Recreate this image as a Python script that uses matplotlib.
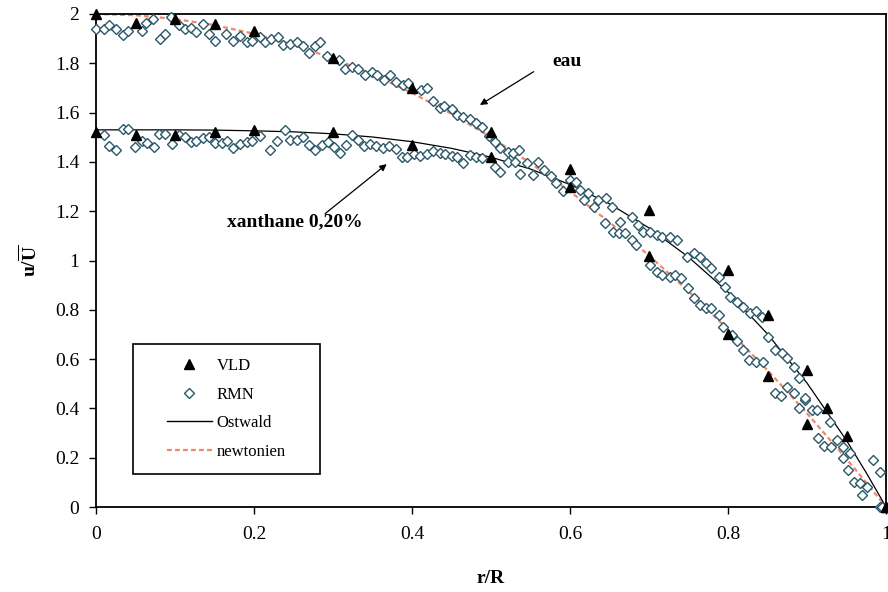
import matplotlib
matplotlib.use("Agg")
import matplotlib.pyplot as plt
from matplotlib.lines import Line2D
from matplotlib.patches import Rectangle
from matplotlib.ticker import FuncFormatter

plt.rcParams['font.family'] = ['Liberation Serif', 'DejaVu Serif']
plt.rcParams['mathtext.fontset'] = 'custom'
plt.rcParams['mathtext.rm'] = 'Liberation Serif'
plt.rcParams['mathtext.bf'] = 'Liberation Serif:bold'

# fitted curves
r_fit = [0, 0.05, 0.1, 0.15, 0.2, 0.25, 0.3, 0.35, 0.4, 0.45, 0.5, 0.55,
         0.6, 0.65, 0.7, 0.75, 0.8, 0.85, 0.9, 0.95, 0.975, 1.0]
ostwald = [1.53, 1.53, 1.53, 1.529, 1.526, 1.522, 1.514, 1.501, 1.482, 1.455, 1.419, 1.371,
           1.308, 1.23, 1.132, 1.014, 0.872, 0.702, 0.503, 0.27, 0.139, 0.0]
newtonien = [2.0, 1.995, 1.98, 1.955, 1.92, 1.875, 1.82, 1.755, 1.68, 1.595, 1.5, 1.395,
             1.28, 1.155, 1.02, 0.875, 0.72, 0.555, 0.38, 0.195, 0.099, 0.0]

# VLD measurements
r_vld_eau = [0, 0.05, 0.1, 0.15, 0.2, 0.3, 0.4, 0.5, 0.6, 0.7, 0.8, 0.85, 0.9, 1.0]
vld_eau = [2.0, 1.965, 1.98, 1.96, 1.93, 1.82, 1.70, 1.52, 1.30, 1.02, 0.70, 0.53, 0.335, 0.0]
r_vld_xan = [0, 0.05, 0.1, 0.15, 0.2, 0.3, 0.4, 0.5, 0.6, 0.7, 0.8, 0.85, 0.9, 0.925, 0.95, 1.0]
vld_xan = [1.52, 1.51, 1.51, 1.52, 1.53, 1.52, 1.47, 1.42, 1.37, 1.205, 0.96, 0.78, 0.555, 0.40, 0.29, 0.0]

# RMN measurements, water
r_rmn_eau = [0, 0.010, 0.017, 0.025, 0.034, 0.041, 0.058, 0.063, 0.072, 0.081, 0.087, 0.095,
             0.105, 0.113, 0.120, 0.127, 0.136, 0.143, 0.151, 0.165, 0.174, 0.182, 0.191,
             0.197, 0.207, 0.214, 0.222, 0.231, 0.237, 0.246, 0.254, 0.262, 0.269, 0.277,
             0.284, 0.293, 0.307, 0.315, 0.324, 0.332, 0.341, 0.349, 0.356, 0.365, 0.372,
             0.380, 0.388, 0.395, 0.411, 0.419, 0.426, 0.435, 0.440, 0.450, 0.457, 0.465,
             0.473, 0.481, 0.489, 0.498, 0.505, 0.512, 0.521, 0.528, 0.536, 0.545, 0.560,
             0.567, 0.576, 0.582, 0.591, 0.618, 0.630, 0.644, 0.655, 0.662, 0.670, 0.678,
             0.684, 0.701, 0.710, 0.717, 0.726, 0.733, 0.741, 0.749, 0.757, 0.765, 0.772,
             0.779, 0.788, 0.794, 0.805, 0.812, 0.819, 0.827, 0.835, 0.844, 0.859, 0.867,
             0.875, 0.883, 0.890, 0.897, 0.914, 0.922, 0.930, 0.945, 0.952, 0.959, 0.967,
             0.969, 0.976, 0.992]
rmn_eau = [1.94, 1.94, 1.955, 1.94, 1.915, 1.93, 1.93, 1.965, 1.978, 1.90, 1.92, 1.987,
           1.955, 1.94, 1.945, 1.925, 1.96, 1.92, 1.89, 1.92, 1.89, 1.91, 1.885,
           1.89, 1.905, 1.885, 1.90, 1.905, 1.874, 1.88, 1.885, 1.87, 1.84, 1.87,
           1.886, 1.83, 1.813, 1.775, 1.786, 1.775, 1.753, 1.766, 1.753, 1.732, 1.753,
           1.725, 1.712, 1.719, 1.69, 1.70, 1.648, 1.617, 1.627, 1.613, 1.59, 1.583,
           1.573, 1.559, 1.54, 1.505, 1.482, 1.455, 1.441, 1.435, 1.448, 1.394, 1.401,
           1.367, 1.343, 1.313, 1.283, 1.245, 1.218, 1.153, 1.117, 1.110, 1.110, 1.083,
           1.063, 0.982, 0.955, 0.941, 0.934, 0.941, 0.928, 0.887, 0.847, 0.819, 0.806,
           0.806, 0.779, 0.731, 0.698, 0.675, 0.637, 0.596, 0.590, 0.590, 0.461, 0.450,
           0.488, 0.461, 0.400, 0.434, 0.279, 0.247, 0.245, 0.198, 0.150, 0.103, 0.096,
           0.049, 0.082, 0.0]

# RMN measurements, xanthane 0,20%
r_rmn_xan = [0.010, 0.017, 0.025, 0.034, 0.041, 0.049, 0.058, 0.065, 0.073, 0.080, 0.087,
             0.096, 0.105, 0.113, 0.120, 0.127, 0.136, 0.143, 0.151, 0.159, 0.166, 0.174,
             0.182, 0.191, 0.198, 0.208, 0.220, 0.229, 0.239, 0.246, 0.254, 0.262, 0.269,
             0.277, 0.286, 0.294, 0.301, 0.309, 0.316, 0.324, 0.332, 0.339, 0.347, 0.354,
             0.363, 0.371, 0.380, 0.387, 0.394, 0.403, 0.410, 0.419, 0.426, 0.435, 0.442,
             0.450, 0.457, 0.465, 0.473, 0.481, 0.489, 0.505, 0.511, 0.522, 0.530, 0.537,
             0.553, 0.600, 0.608, 0.613, 0.623, 0.636, 0.646, 0.653, 0.663, 0.678, 0.686,
             0.693, 0.701, 0.710, 0.717, 0.727, 0.735, 0.748, 0.757, 0.765, 0.772, 0.779,
             0.788, 0.796, 0.803, 0.811, 0.819, 0.828, 0.835, 0.843, 0.850, 0.859, 0.868,
             0.875, 0.883, 0.890, 0.897, 0.906, 0.913, 0.929, 0.938, 0.946, 0.954, 0.983,
             0.992, 0.995]
rmn_xan = [1.51, 1.465, 1.45, 1.535, 1.535, 1.46, 1.486, 1.478, 1.46, 1.513, 1.513,
           1.473, 1.51, 1.50, 1.48, 1.486, 1.496, 1.50, 1.478, 1.478, 1.486, 1.455,
           1.473, 1.48, 1.486, 1.505, 1.45, 1.486, 1.53, 1.49, 1.49, 1.50, 1.469,
           1.448, 1.469, 1.482, 1.459, 1.437, 1.469, 1.509, 1.49, 1.464, 1.473, 1.464,
           1.455, 1.464, 1.451, 1.421, 1.421, 1.432, 1.424, 1.432, 1.445, 1.437, 1.432,
           1.424, 1.419, 1.397, 1.428, 1.419, 1.415, 1.38, 1.36, 1.40, 1.40, 1.351,
           1.347, 1.327, 1.32, 1.286, 1.273, 1.245, 1.252, 1.218, 1.157, 1.178, 1.144,
           1.117, 1.117, 1.103, 1.097, 1.097, 1.083, 1.015, 1.029, 1.015, 0.989, 0.968,
           0.934, 0.894, 0.853, 0.833, 0.813, 0.786, 0.796, 0.772, 0.688, 0.637, 0.624,
           0.603, 0.569, 0.522, 0.441, 0.394, 0.394, 0.346, 0.272, 0.245, 0.218, 0.191,
           0.143, 0.0]

x_ticks = [0, 0.2, 0.4, 0.6, 0.8, 1.0]
y_ticks = [0, 0.2, 0.4, 0.6, 0.8, 1.0, 1.2, 1.4, 1.6, 1.8, 2.0]

dia_col = '#2a5868'
newt_col = '#f0886a'

fig = plt.figure(figsize=(8.88, 5.92), dpi=100)
ax = fig.add_axes([96 / 888, 1 - 507 / 592, 790 / 888, 493 / 592])

# curves
ax.plot(r_fit, newtonien, color=newt_col, lw=1.6, dashes=(2.2, 1.4), zorder=2)
ax.plot(r_fit, ostwald, color='black', lw=0.9, zorder=3)

# RMN diamonds
dkw = dict(ls='none', marker='D', ms=4.8, mfc='white', mec=dia_col, mew=1.0,
           zorder=4, clip_on=False)
ax.plot(r_rmn_eau, rmn_eau, **dkw)
ax.plot(r_rmn_xan, rmn_xan, **dkw)

# VLD triangles
tkw = dict(ls='none', marker='^', ms=6.5, color='black', zorder=5, clip_on=False)
ax.plot(r_vld_eau, vld_eau, **tkw)
ax.plot(r_vld_xan, vld_xan, **tkw)

ax.set_xlim(0, 1)
ax.set_ylim(0, 2)
ax.set_xticks(x_ticks)
ax.set_yticks(y_ticks)
fmt = FuncFormatter(lambda v, p: '%g' % v)
ax.xaxis.set_major_formatter(fmt)
ax.yaxis.set_major_formatter(fmt)
ax.tick_params(direction='out', length=5, width=1, labelsize=14, color='black')
ax.tick_params(axis='x', pad=9)
ax.tick_params(axis='y', pad=7)
for s in ax.spines.values():
    s.set_linewidth(1.3)
    s.set_color('black')

ax.set_xlabel('r/R', fontsize=14, fontweight='bold', labelpad=19)
ax.set_ylabel(r'$\mathbf{u/\overline{U}}$', fontsize=14, labelpad=10)

# annotations
akw = dict(arrowstyle='-|>', color='black', lw=0.9, mutation_scale=10, shrinkA=0, shrinkB=0)
ax.annotate('', xy=(0.486, 1.631), xytext=(0.554, 1.766), arrowprops=akw)
ax.text(0.596, 1.807, 'eau', fontsize=14, fontweight='bold', ha='center', va='center')
ax.annotate('', xy=(0.368, 1.391), xytext=(0.29, 1.19), arrowprops=akw)
ax.text(0.252, 1.156, 'xanthane 0,20%', fontsize=14, fontweight='bold', ha='center', va='center')

# legend
handles = [
    Line2D([], [], ls='none', marker='^', ms=6.5, color='black'),
    Line2D([], [], ls='none', marker='D', ms=4.8, mfc='white', mec=dia_col, mew=1.0),
    Line2D([], [], color='black', lw=1.0),
    Line2D([], [], color=newt_col, lw=1.6, dashes=(2.2, 1.4)),
]
labels = ['VLD', 'RMN', 'Ostwald', 'newtonien']
ax.legend(handles, labels, loc='center', bbox_to_anchor=(0.165, 0.199), frameon=False,
          fontsize=12, handlelength=2.7, handletextpad=0.3, labelspacing=0.75)
ax.add_patch(Rectangle((0.0465, 0.067), 0.237, 0.2637, transform=ax.transAxes,
                       fill=False, ec='black', lw=1.2, zorder=6))

fig.savefig('out.png', dpi=100)
